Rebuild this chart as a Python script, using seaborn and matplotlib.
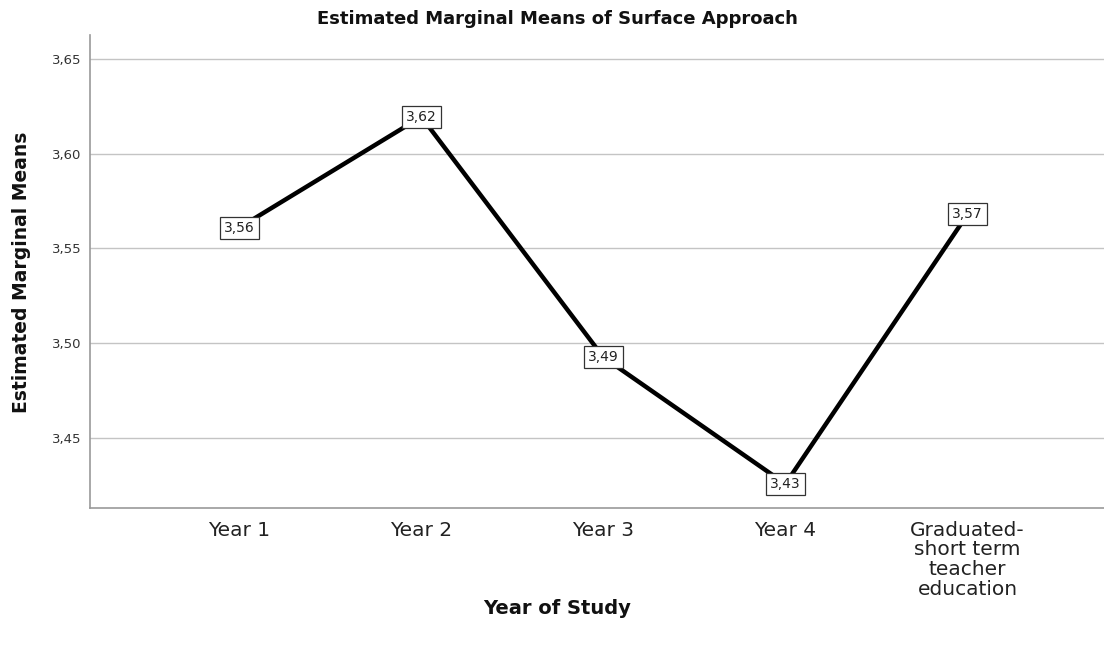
import numpy as np
import pandas as pd
import matplotlib
matplotlib.use("Agg")
import matplotlib.pyplot as plt
import seaborn as sns

categories = ["Year 1", "Year 2", "Year 3", "Year 4",
              "Graduated-\nshort term\nteacher\neducation"]
means = [3.561, 3.6195, 3.4926, 3.4257, 3.568]
point_labels = ["3,56", "3,62", "3,49", "3,43", "3,57"]
yticks = [3.45, 3.50, 3.55, 3.60, 3.65]
ytick_labels = ["3,45", "3,50", "3,55", "3,60", "3,65"]

sns.set_style("white")
plt.rcParams['font.family'] = ['DejaVu Sans']

df = pd.DataFrame({"pos": np.arange(len(categories)), "mean": means})

fig = plt.figure(figsize=(11.04, 6.46), dpi=100)
ax = fig.add_axes([90/1104, 1-508/646, 1-90/1104, (508-35)/646])

for y in yticks:
    ax.axhline(y, color="#c4c4c4", lw=1.0, zorder=0)

sns.lineplot(data=df, x="pos", y="mean", color="black", lw=3.2, ax=ax,
             sort=False, zorder=2)

for xi, yi, lab in zip(df["pos"], df["mean"], point_labels):
    ax.text(xi, yi, lab, ha="center", va="center", fontsize=10, color="#222222",
            zorder=3,
            bbox=dict(boxstyle="square,pad=0.28", fc="white", ec="#333333", lw=0.9))

ax.set_xlim(-0.82, 4.75)
ax.set_ylim(3.413, 3.6627)
ax.set_xticks(df["pos"])
ax.set_xticklabels(categories, fontsize=14.5, color="#222222", linespacing=1.05)
ax.set_yticks(yticks)
ax.set_yticklabels(ytick_labels, fontsize=9.5, color="#333333")
ax.tick_params(axis="both", length=0)
ax.tick_params(axis="x", pad=9)
ax.tick_params(axis="y", pad=6)

for s in ["top", "right"]:
    ax.spines[s].set_visible(False)
for s in ["left", "bottom"]:
    ax.spines[s].set_color("#999999")
    ax.spines[s].set_linewidth(1.2)

ax.set_xlabel("")
ax.set_ylabel("")
fig.text(22/1104, 1-272/646, "Estimated Marginal Means", rotation=90,
         ha="center", va="center", fontsize=13.5, fontweight="bold", color="#111111")
fig.text(557/1104, 1-608/646, "Year of Study", ha="center", va="center",
         fontsize=14, fontweight="bold", color="#111111")
fig.text(557/1104, 1-19/646, "Estimated Marginal Means of Surface Approach",
         ha="center", va="center", fontsize=13, fontweight="bold", color="#111111")

fig.savefig("out.png", dpi=100)
